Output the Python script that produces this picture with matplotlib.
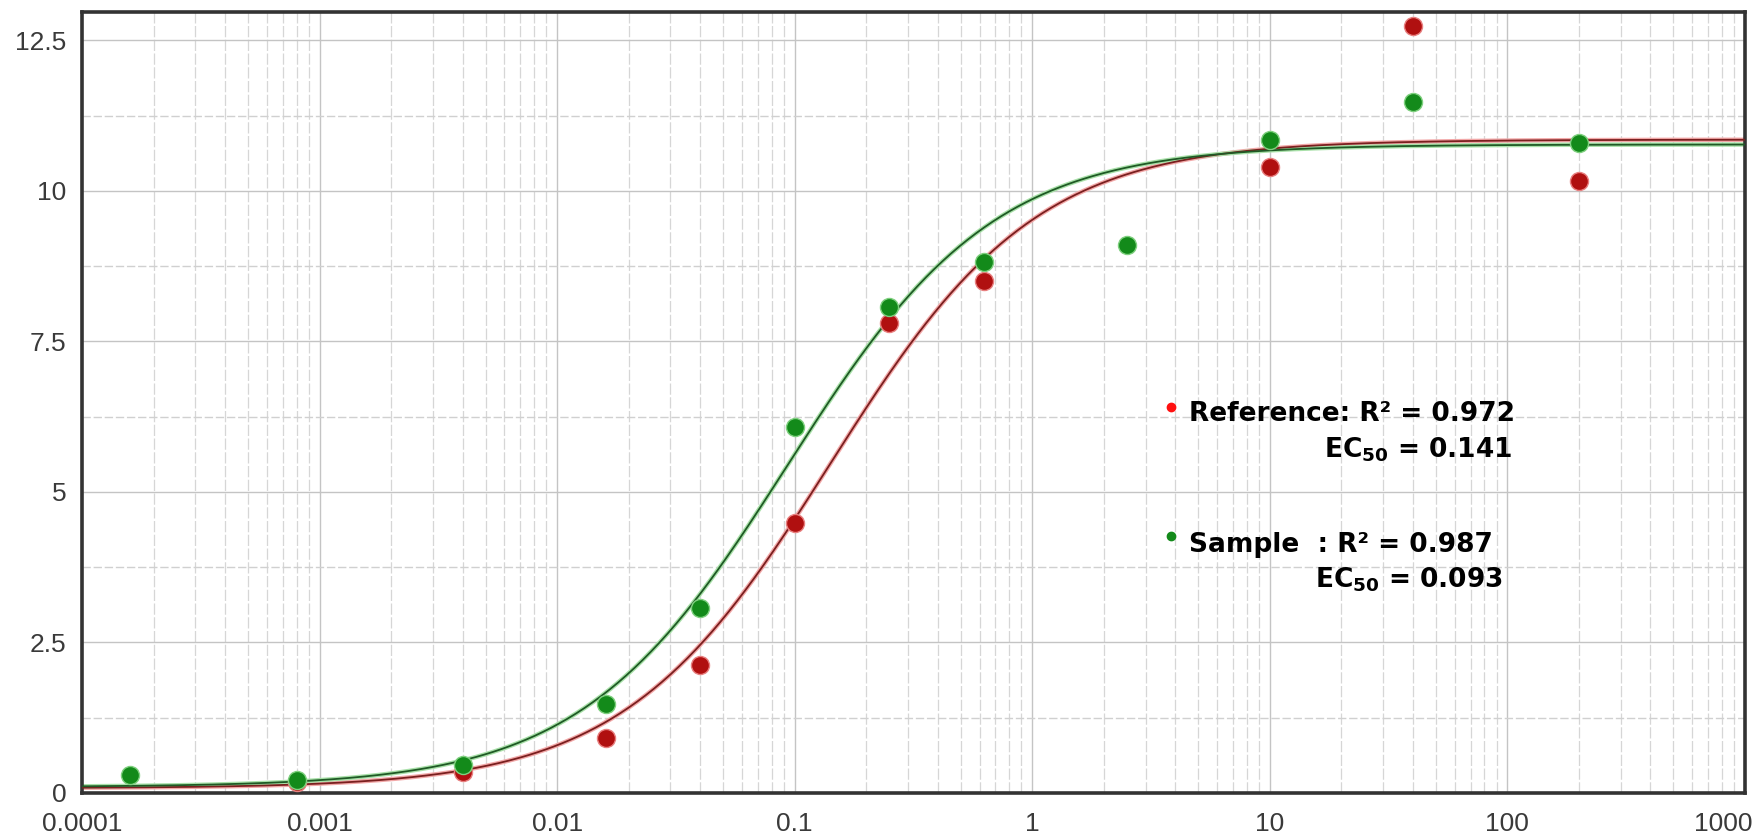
import numpy as np
import matplotlib
matplotlib.use("Agg")
import matplotlib.pyplot as plt
from matplotlib.ticker import FixedLocator, NullFormatter, LogLocator
from matplotlib.transforms import ScaledTranslation

# Concentrations and measured responses
concentration = [0.00016, 0.0008, 0.004, 0.016, 0.04, 0.1, 0.25, 0.625, 2.5, 10, 40, 200]
reference_resp = [-0.3, 0.19, 0.35, 0.91, 2.12, 4.48, 7.81, 8.50, np.nan, 10.40, 12.73, 10.17]
sample_resp = [0.30, 0.22, 0.46, 1.48, 3.07, 6.08, 8.07, 8.82, 9.10, 10.85, 11.48, 10.80]

# Four-parameter logistic fits (bottom, top, EC50, hill slope)
reference_fit = dict(bottom=0.08, top=10.85, ec50=0.141, hill=1.0)
sample_fit = dict(bottom=0.10, top=10.77, ec50=0.093, hill=1.0)
reference_r2 = 0.972
sample_r2 = 0.987

x_ticks = [0.0001, 0.001, 0.01, 0.1, 1, 10, 100, 1000]
x_tick_labels = ["0.0001", "0.001", "0.01", "0.1", "1", "10", "100", "1000"]
y_ticks = [0, 2.5, 5, 7.5, 10, 12.5]
y_tick_labels = ["0", "2.5", "5", "7.5", "10", "12.5"]


def logistic4(x, bottom, top, ec50, hill):
    return bottom + (top - bottom) / (1.0 + (ec50 / x) ** hill)


fig = plt.figure(figsize=(17.6, 8.39), dpi=100)
ax = fig.add_axes([82 / 1760, 46 / 839, 1663 / 1760, 781 / 839])
ax.set_xscale("log")
ax.set_xlim(1e-4, 1e3)
ax.set_ylim(0, 12.97)

# ticks and grid
ax.xaxis.set_major_locator(FixedLocator(x_ticks))
ax.xaxis.set_minor_locator(LogLocator(base=10, subs=np.arange(2, 10)))
ax.xaxis.set_minor_formatter(NullFormatter())
ax.set_xticks(x_ticks)
ax.set_xticklabels(x_tick_labels)
ax.set_yticks(y_ticks)
ax.set_yticklabels(y_tick_labels)
ax.set_yticks(np.arange(1.25, 13, 2.5), minor=True)

ax.grid(which="major", axis="both", color="#c4c4c4", linewidth=1.0, zorder=0)
ax.grid(which="minor", axis="x", color="#d6d6d6", linewidth=0.9,
        linestyle=(0, (9, 2)), zorder=0)
ax.grid(which="minor", axis="y", color="#d0d0d0", linewidth=1.0,
        linestyle=(0, (6, 2)), zorder=0)
ax.set_axisbelow(True)

ax.tick_params(which="both", length=0)
ax.tick_params(axis="x", pad=14, labelsize=19, labelcolor="#3a3a3a")
ax.tick_params(axis="y", pad=11, labelsize=19, labelcolor="#3a3a3a")
for lab in ax.get_xticklabels() + ax.get_yticklabels():
    lab.set_family("Liberation Sans")
# keep the last decade label inside the figure
last = ax.get_xticklabels()[-1]
last.set_transform(last.get_transform() + ScaledTranslation(-22 / 100, 0, fig.dpi_scale_trans))

for sp in ax.spines.values():
    sp.set_color("#333333")
    sp.set_linewidth(2.6)

# fitted curves
xs = np.logspace(-4, 3, 600)
ax.plot(xs, logistic4(xs, **reference_fit), color="#f2a8a8", linewidth=3.2,
        zorder=2, solid_capstyle="butt")
ax.plot(xs, logistic4(xs, **reference_fit), color="#7a1f1f", linewidth=1.3,
        zorder=3)
ax.plot(xs, logistic4(xs, **sample_fit), color="#a8e0a8", linewidth=3.2,
        zorder=2, solid_capstyle="butt")
ax.plot(xs, logistic4(xs, **sample_fit), color="#1f5a25", linewidth=1.3,
        zorder=3)

# measured points
ax.plot(concentration, reference_resp, linestyle="none", marker="o",
        markersize=13, markerfacecolor="#b01010", markeredgecolor="#e88080",
        markeredgewidth=1.0, zorder=4)
ax.plot(concentration, sample_resp, linestyle="none", marker="o",
        markersize=13, markerfacecolor="#138a1a", markeredgecolor="#7fd07f",
        markeredgewidth=1.0, zorder=5)

# fit summary
tfont = dict(family="DejaVu Sans", fontweight="bold", fontsize=19, color="black")
ax.plot([0.6548], [0.4942], transform=ax.transAxes, marker="o", markersize=6,
        color="#ff1010", linestyle="none", clip_on=False, zorder=6)
ax.text(0.6657, 0.4763, f"Reference: R\u00b2 = {reference_r2:.3f}",
        transform=ax.transAxes, ha="left", va="baseline", zorder=6, **tfont)
ax.text(0.860, 0.4302, r"EC$_{\mathbf{50}}$" + f" = {reference_fit['ec50']:.3f}",
        transform=ax.transAxes, ha="right", va="baseline", zorder=6, **tfont)

ax.plot([0.6548], [0.329], transform=ax.transAxes, marker="o", markersize=6,
        color="#138a1a", linestyle="none", clip_on=False, zorder=6)
ax.text(0.6657, 0.3086, f"Sample  : R\u00b2 = {sample_r2:.3f}",
        transform=ax.transAxes, ha="left", va="baseline", zorder=6, **tfont)
ax.text(0.8545, 0.2625, r"EC$_{\mathbf{50}}$" + f" = {sample_fit['ec50']:.3f}",
        transform=ax.transAxes, ha="right", va="baseline", zorder=6, **tfont)

fig.savefig("out.png", dpi=100, facecolor="white")
